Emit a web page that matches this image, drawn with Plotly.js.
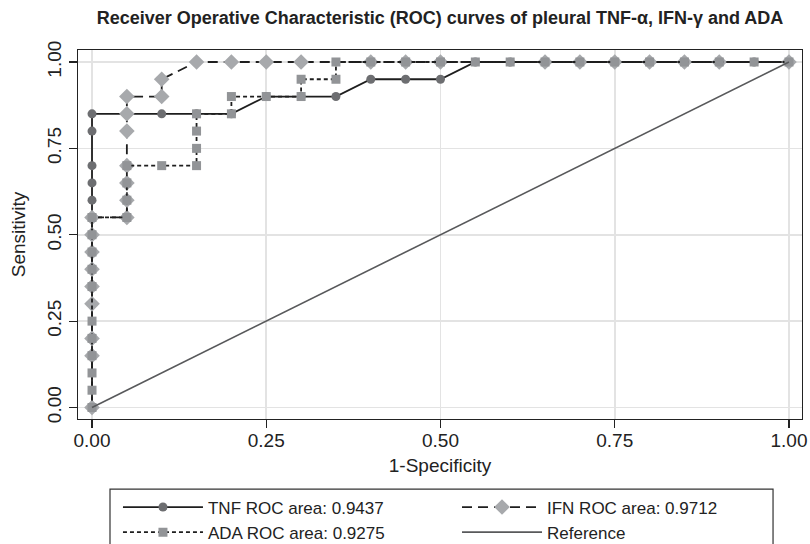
<!DOCTYPE html>
<html>
<head>
<meta charset="utf-8">
<script src="https://cdn.plot.ly/plotly-3.0.1.min.js"></script>
<style>html,body{margin:0;padding:0;background:#fff;}#chart{width:810px;height:544px;}</style>
</head>
<body>
<div id="chart"></div>
<script>
// ROC points (1-Specificity, Sensitivity)
const tnfX = [0, 0, 0, 0, 0, 0, 0, 0.05, 0.10, 0.15, 0.20, 0.25, 0.30, 0.35, 0.40, 0.45, 0.50, 0.55, 0.60, 0.65, 0.70, 0.75, 0.80, 0.85, 0.90, 0.95, 1.00];
const tnfY = [0, 0.55, 0.60, 0.65, 0.70, 0.80, 0.85, 0.85, 0.85, 0.85, 0.85, 0.90, 0.90, 0.90, 0.95, 0.95, 0.95, 1, 1, 1, 1, 1, 1, 1, 1, 1, 1];

const ifnX = [0, 0, 0, 0, 0, 0, 0, 0, 0, 0.05, 0.05, 0.05, 0.05, 0.05, 0.05, 0.05, 0.10, 0.10, 0.15, 0.20, 0.25, 0.30, 0.40, 0.45, 0.50, 0.65, 0.70, 0.75, 0.80, 0.85, 0.90, 1.00];
const ifnY = [0, 0.15, 0.20, 0.30, 0.35, 0.40, 0.45, 0.50, 0.55, 0.55, 0.60, 0.65, 0.70, 0.80, 0.85, 0.90, 0.90, 0.95, 1, 1, 1, 1, 1, 1, 1, 1, 1, 1, 1, 1, 1, 1];

const adaX = [0, 0, 0, 0, 0, 0, 0, 0, 0, 0, 0, 0.05, 0.05, 0.05, 0.05, 0.10, 0.15, 0.15, 0.15, 0.15, 0.20, 0.20, 0.25, 0.30, 0.30, 0.35, 0.35, 0.40, 0.45, 0.50, 0.55, 0.60, 0.65, 0.70, 0.75, 0.80, 0.85, 0.90, 0.95, 1.00];
const adaY = [0, 0.05, 0.10, 0.15, 0.20, 0.25, 0.35, 0.40, 0.45, 0.50, 0.55, 0.55, 0.60, 0.65, 0.70, 0.70, 0.70, 0.75, 0.80, 0.85, 0.85, 0.90, 0.90, 0.90, 0.95, 0.95, 1, 1, 1, 1, 1, 1, 1, 1, 1, 1, 1, 1, 1, 1];

const refX = [0, 1];
const refY = [0, 1];

const seriesNames = ['TNF ROC area: 0.9437', 'IFN ROC area: 0.9712', 'ADA ROC area: 0.9275', 'Reference'];
const tickVals = [0, 0.25, 0.5, 0.75, 1];
const tickText = ['0.00', '0.25', '0.50', '0.75', '1.00'];

const FONT = 'Liberation Sans, Arial, Helvetica, sans-serif';

const traces = [
  {x: tnfX, y: tnfY, name: seriesNames[0], mode: 'lines+markers', legend: 'legend',
   line: {color: '#1e1e1e', width: 1.8},
   marker: {symbol: 'circle', size: 9, color: '#6d6e71'}},
  {x: ifnX, y: ifnY, name: seriesNames[1], mode: 'lines+markers', legend: 'legend2',
   line: {color: '#1e1e1e', width: 1.8, dash: '10px,6px'},
   marker: {symbol: 'diamond', size: 12, color: '#a7a9ac'}},
  {x: adaX, y: adaY, name: seriesNames[2], mode: 'lines+markers', legend: 'legend',
   line: {color: '#1e1e1e', width: 1.8, dash: '4px,3px'},
   marker: {symbol: 'square', size: 9, color: '#929497'}},
  {x: refX, y: refY, name: seriesNames[3], mode: 'lines', legend: 'legend2',
   line: {color: '#58595b', width: 1.6}}
];

const legendCommon = {
  orientation: 'v', yanchor: 'top', xanchor: 'left', y: -0.191,
  bgcolor: 'rgba(0,0,0,0)', borderwidth: 0, itemwidth: 80,
  tracegroupgap: 0, font: {family: FONT, size: 17, color: '#222'}
};

const layout = {
  width: 810, height: 544,
  margin: {l: 78, r: 8, t: 50, b: 125, autoexpand: false},
  paper_bgcolor: '#fff', plot_bgcolor: '#fff',
  font: {family: FONT, color: '#222'},
  title: {text: '<b>Receiver Operative Characteristic (ROC) curves of pleural TNF-α, IFN-γ and ADA</b>',
          font: {family: FONT, size: 18, color: '#222'}, x: 0.5, xref: 'paper', xanchor: 'center',
          y: 0.967, yref: 'container', yanchor: 'middle'},
  xaxis: {range: [-0.0201, 1.0187], tickvals: tickVals, ticktext: tickText,
          ticks: 'outside', ticklen: 8, tickcolor: '#222', tickwidth: 1.2, ticklabelstandoff: -4,
          showline: true, mirror: true, linecolor: '#222', linewidth: 1.2,
          showgrid: true, gridcolor: '#e3e3e3', gridwidth: 1.6, zeroline: false,
          tickfont: {family: FONT, size: 19, color: '#222'},
          title: {text: '1-Specificity', font: {family: FONT, size: 19, color: '#222'}, standoff: 8},
          automargin: false, fixedrange: true},
  yaxis: {range: [-0.0333, 1.0347], tickvals: tickVals, ticktext: tickText, tickangle: -90,
          ticks: 'outside', ticklen: 8, tickcolor: '#222', tickwidth: 1.2,
          showline: true, mirror: true, linecolor: '#222', linewidth: 1.2,
          showgrid: true, gridcolor: '#e3e3e3', gridwidth: 1.6, zeroline: false,
          tickfont: {family: FONT, size: 19, color: '#222'},
          title: {text: 'Sensitivity', font: {family: FONT, size: 19, color: '#222'}, standoff: 13},
          automargin: false, fixedrange: true},
  showlegend: true,
  legend: Object.assign({}, legendCommon, {x: 0.0552}),
  legend2: Object.assign({}, legendCommon, {x: 0.5235}),
  shapes: [{type: 'rect', xref: 'paper', yref: 'paper', x0: 0.0442, x1: 0.96, y0: -0.19, y1: -0.42,
            line: {color: '#333', width: 1.2}, fillcolor: 'rgba(0,0,0,0)', layer: 'above'}]
};

Plotly.newPlot('chart', traces, layout, {displayModeBar: false, staticPlot: true});
</script>
</body>
</html>
